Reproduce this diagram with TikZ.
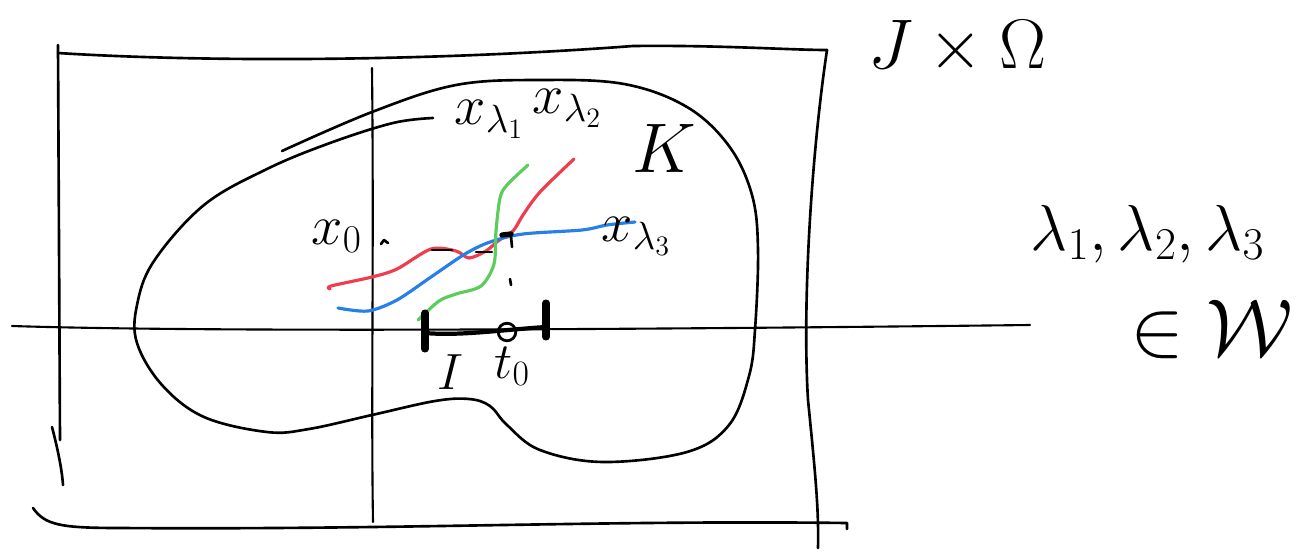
\RequirePackage{fix-cm}
\documentclass[tikz,border=0pt]{standalone}
\usepackage{amsmath}
\usetikzlibrary{positioning}
\tikzset{every picture/.style={line width=0.75pt}}
\definecolor{skred}{RGB}{238,62,78}
\definecolor{skblue}{RGB}{38,128,232}
\definecolor{skgreen}{RGB}{92,204,92}
\tikzset{
  sketch/.style  ={line width=1.5pt, line cap=round, line join=round},
  thinline/.style={line width=1.2pt, line cap=round},
  curve/.style   ={line width=1.8pt, line cap=round, line join=round},
  tickmark/.style={line width=4pt, line cap=round},
  lbl/.style     ={inner sep=0pt, anchor=base west, font=\fontsize{32}{38}\selectfont},
  lblsmall/.style={inner sep=0pt, anchor=base west, font=\fontsize{29}{34}\selectfont},
  lblbig/.style  ={inner sep=0pt, anchor=base west, font=\fontsize{40}{48}\selectfont},
  lbllist/.style ={inner sep=0pt, anchor=base west, font=\fontsize{37}{44}\selectfont},
  lblset/.style  ={inner sep=0pt, anchor=base west, font=\fontsize{46}{54}\selectfont},
}

\begin{document}
\begin{tikzpicture}[x=0.02cm, y=-0.02cm]
    \useasboundingbox (0,0) rectangle (1313,558);
    % the box J x Omega
    \draw[sketch] (58,53) .. controls (200,62) and (420,62) .. (633,46)
                          .. controls (720,45) and (790,50) .. (827,50);
    \draw[sketch] (58,45) -- (60,440);
    \draw[sketch] (52,427) .. controls (58,450) and (62,470) .. (63,485);
    \draw[sketch] (827,50) .. controls (812,150) and (802,300) .. (808,400)
                          .. controls (815,470) and (819,510) .. (818,548);
    \draw[sketch] (33,508) .. controls (45,525) and (60,528) .. (120,528)
                          .. controls (400,530) and (600,520) .. (847,523) -- (847,529);
    % axes
    \draw[thinline] (372,68) .. controls (374,250) and (371,400) .. (373,522);
    \draw[thinline] (12,326) .. controls (200,332) and (600,330) .. (1030,325);
    % compact set K, drawn in one open stroke
    \draw[sketch] plot[smooth, tension=0.6] coordinates {
        (282,151) (372,112) (456,85) (540,80) (624,84) (687,107) (729,146)
        (752,195) (758,250) (755,330) (749,376) (729,425) (687,452) (603,462)
        (540,450) (507,425) (490,406) (469,399) (435,401) (372,415) (309,429)
        (267,432) (204,417) (162,385) (137,343) (137,305) (154,261) (204,205)
        (267,169) (330,143) (393,123) (433,118)};
    % trajectories
    \draw[curve, skred] plot[smooth, tension=0.5] coordinates {
        (330,289) (331,286) (372,277) (397,269) (431,249) (456,251) (469,258)
        (486,251) (498,241) (513,231) (523,215) (540,192) (574,159)};
    \draw[curve, skblue] plot[smooth, tension=0.5] coordinates {
        (338,308) (368,311) (397,300) (431,277) (465,254) (490,242) (523,234)
        (582,230) (607,225) (635,222)};
    \draw[curve, skgreen] plot[smooth, tension=0.5] coordinates {
        (418,320) (439,301) (456,294) (481,286) (494,264) (496,231) (500,198)
        (507,185) (528,165)};
    % small marks
    \draw[sketch] (381,244) -- (384,240) -- (388,243);
    \draw[sketch] (432,250) -- (452,250);
    \draw[sketch] (476,252) -- (492,252);
    \draw[line width=3pt, line cap=round] (502,235) -- (511,234);
    \draw[sketch] (511,236) -- (512,247);
    \draw[sketch] (510,279) -- (511,285);
    % interval I around t_0
    \coordinate (Ia) at (425,333);
    \coordinate (Ib) at (546,327);
    \draw[line width=2.4pt] (Ia) .. controls (460,336) and (500,330) .. (Ib);
    \draw[tickmark] (Ia) ++(0,-20) -- ++(0,36);
    \draw[tickmark] (Ib) ++(0,-24) -- ++(0,34);
    \node[circle, draw, line width=1.6pt, minimum size=10pt, inner sep=0pt] (t0pt) at (507,332) {};
    % labels
    \node[lblsmall] (labI)  at (437,389) {$I$};
    \node[lblsmall] (labt0) at (494,378) {$t_0$};
    \node[lbl] (labx0) at (311,244) {$x_0$};
    \node[lbl] (labx1) at (454,124) {$x_{\lambda_1}$};
    \node[lbl] (labx2) at (532,113) {$x_{\lambda_2}$};
    \node[lbl] (labx3) at (601,241) {$x_{\lambda_3}$};
    \node[lblbig] (labK) at (632,172) {$K$};
    \node[lblbig] (labJO) at (868,68) {$J\times\Omega$};
    \node[lbllist] (lablam) at (1030,250) {$\lambda_1,\lambda_2,\lambda_3$};
    \node[lblset] (labW) at (1130,355) {$\in\mathcal{W}$};
\end{tikzpicture}
\end{document}
